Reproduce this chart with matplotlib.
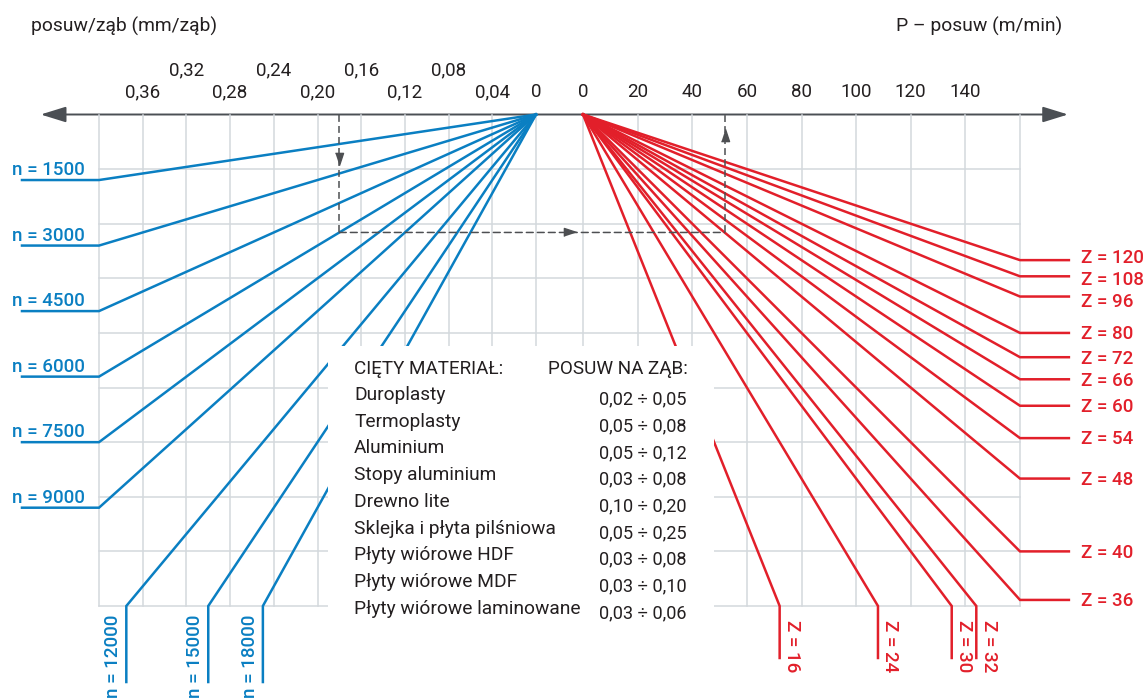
import numpy as np
import matplotlib
matplotlib.use('Agg')
from matplotlib import pyplot as plt
from matplotlib.patches import Rectangle, FancyArrowPatch, ConnectionPatch

plt.rcParams['font.family'] = ['Roboto', 'DejaVu Sans']

# ---- values ----
fzLabels = [0.36, 0.32, 0.28, 0.24, 0.20, 0.16, 0.12, 0.08, 0.04, 0]
pLabels = [0, 20, 40, 60, 80, 100, 120, 140]
nVals = [1500, 3000, 4500, 6000, 7500, 9000, 12000, 15000, 18000]
zVals = [120, 108, 96, 80, 72, 66, 60, 54, 48, 40, 36, 32, 30, 24, 16]
fzMax = 0.40   # mm/tooth at left edge of grid
pMax = 160     # m/min at right edge of grid
vMax = 4500    # fz*n (mm/min) at bottom of grid
vStep = 500

materials = ['Duroplasty', 'Termoplasty', 'Aluminium', 'Stopy aluminium',
             'Drewno lite', 'Sklejka i płyta pilśniowa', 'Płyty wiórowe HDF',
             'Płyty wiórowe MDF', 'Płyty wiórowe laminowane']
feedRanges = ['0,02 ÷ 0,05', '0,05 ÷ 0,08', '0,05 ÷ 0,12', '0,03 ÷ 0,08',
              '0,10 ÷ 0,20', '0,05 ÷ 0,25', '0,03 ÷ 0,08', '0,03 ÷ 0,10',
              '0,03 ÷ 0,06']

# worked example (dashed path)
exFz = 0.18
exN = 6000
exZ = 48

# ---- style ----
W, H = 1148, 699
PT = 0.72  # points per pixel at dpi 100
BLUE = '#0a7fc2'
RED = '#e21f2a'
INK = '#231f20'
GRID = '#d3d8dd'
AXC = '#4b4f54'
DASH = '#4d4f52'
LW = 1.8
FS = 13.5

GRID_TOP, GRID_BOT = 114.5, 606
L_X0, L_X1 = 99, 536
R_X0, R_X1 = 583, 1020

# small vertical nudges (px) so the crowded Z labels don't collide
zLabelNudge = {120: -3.5, 108: 2.5, 96: 4}


def axRect(x0, x1):
  return [x0 / W, 1 - GRID_BOT / H, (x1 - x0) / W, (GRID_BOT - GRID_TOP) / H]


def fx(px):
  return px / W


def fy(py):
  return 1 - py / H


def fmtFz(v):
  return '0' if v == 0 else ('%.2f' % v).replace('.', ',')


fig = plt.figure(figsize=(W / 100, H / 100), dpi=100)

axg = fig.add_axes(axRect(L_X0, R_X1))
axL = fig.add_axes(axRect(L_X0, L_X1))
axR = fig.add_axes(axRect(R_X0, R_X1))
for ax in (axg, axL, axR):
  ax.set_facecolor('none')
  for sp in ax.spines.values():
    sp.set_visible(False)
  ax.tick_params(length=0, labelbottom=False, labelleft=False)
  ax.set_ylim(vMax, 0)

axg.set_xlim(0, 1)
axg.set_xticks([])
axg.set_yticks(np.arange(vStep, vMax + 1, vStep))
axg.grid(axis='y', color=GRID, lw=1.1)
for gl in axg.get_ygridlines():
  gl.set_clip_on(False)

axL.set_xlim(fzMax, 0)
axL.set_xticks(np.arange(0, fzMax + 1e-9, 0.04))
axL.set_yticks([])
axR.set_xlim(0, pMax)
axR.set_xticks(np.arange(0, pMax + 1, 20))
axR.set_yticks([])
for ax in (axL, axR):
  ax.grid(axis='x', color=GRID, lw=1.1)
  for gl in ax.get_xgridlines():
    gl.set_clip_on(False)

# axis with arrows on both ends
arr = FancyArrowPatch(((40.7 - L_X0) / (R_X1 - L_X0), 0),
                      ((1068 - L_X0) / (R_X1 - L_X0), 0),
                      arrowstyle='<|-|>,head_length=15.5,head_width=4.8',
                      mutation_scale=1, shrinkA=0, shrinkB=0,
                      color=AXC, lw=1.4, transform=axg.transData,
                      clip_on=False, zorder=5)
axg.add_patch(arr)

# tick labels
for fz in fzLabels:
  upper = fz > 0 and round(fz / 0.04) % 2 == 0
  axL.annotate(fmtFz(fz), xy=(fz, 0), xytext=(0, (28.4 if upper else 12.6)),
               textcoords='offset points', ha='center', va='baseline',
               fontsize=FS, color=INK, annotation_clip=False)
for p in pLabels:
  axR.annotate(str(p), xy=(p, 0), xytext=(0, 12.6), textcoords='offset points',
               ha='center', va='baseline', fontsize=FS, color=INK,
               annotation_clip=False)

# n lines (left quadrant)
nStubFz = 0.0705
nStubV = 696
for n in nVals:
  fzEnd = min(fzMax, vMax / n)
  vEnd = fzEnd * n
  if vEnd < vMax:
    xs = [0, fzEnd, fzEnd + nStubFz]
    ys = [0, vEnd, vEnd]
    axL.plot(xs, ys, color=BLUE, lw=LW, clip_on=False, solid_joinstyle='miter')
    axL.annotate('n = %d' % n, xy=(xs[-1], vEnd), xytext=(-10 * PT, 5 * PT),
                 textcoords='offset points', ha='left', va='baseline',
                 fontsize=FS, color=BLUE, fontweight='medium',
                 annotation_clip=False)
  else:
    xs = [0, fzEnd, fzEnd]
    ys = [0, vEnd, vEnd + nStubV]
    axL.plot(xs, ys, color=BLUE, lw=LW, clip_on=False, solid_joinstyle='miter')
    axL.annotate('n = %d' % n, xy=(fzEnd, vMax), xytext=(-13 * PT, -9 * PT),
                 textcoords='offset points', ha='center', va='top',
                 rotation=90, fontsize=FS, color=BLUE, fontweight='medium',
                 annotation_clip=False)

# Z lines (right quadrant)
zStubP = 17.9
zStubV = 476
for z in zVals:
  vEnd = min(vMax, pMax * 1000.0 / z)
  pEnd = vEnd * z / 1000.0
  if vEnd < vMax:
    xs = [0, pEnd, pEnd + zStubP]
    ys = [0, vEnd, vEnd]
    axR.plot(xs, ys, color=RED, lw=LW, clip_on=False, solid_joinstyle='miter')
    dy = zLabelNudge.get(z, 0)
    axR.annotate('Z = %d' % z, xy=(xs[-1], vEnd),
                 xytext=(12 * PT, (-6.3 - dy) * PT),
                 textcoords='offset points', ha='left', va='baseline',
                 fontsize=FS, color=RED, fontweight='medium',
                 annotation_clip=False)
  else:
    xs = [0, pEnd, pEnd]
    ys = [0, vEnd, vEnd + zStubV]
    axR.plot(xs, ys, color=RED, lw=LW, clip_on=False, solid_joinstyle='miter')
    axR.annotate('Z = %d' % z, xy=(pEnd, vMax), xytext=(12.5 * PT, -14 * PT),
                 textcoords='offset points', ha='center', va='top',
                 rotation=270, fontsize=FS, color=RED, fontweight='medium',
                 annotation_clip=False)

# worked example: fz -> n -> Z -> P
exV = exFz * exN
exP = exV * exZ / 1000.0
dashKw = dict(color=DASH, lw=1.1, dashes=(4.5, 2.7), clip_on=False, zorder=4)
axL.plot([exFz, exFz], [0, exV], **dashKw)
axR.plot([exP, exP], [exV, 0], **dashKw)
con = ConnectionPatch((exFz, exV), (exP, exV), coordsA=axL.transData,
                      coordsB=axR.transData, color=DASH, lw=1.1,
                      linestyle=(0, (4.5, 2.7)), zorder=2)
fig.add_artist(con)

triDown = [(-0.33, 0.5), (0.33, 0.5), (0, -0.5)]
triUp = [(-0.33, -0.5), (0.33, -0.5), (0, 0.5)]
triRight = [(-0.5, -0.33), (-0.5, 0.33), (0.5, 0)]
mk = dict(color=DASH, markersize=8.8, clip_on=False, zorder=5, lw=0)
axL.plot([exFz], [exV * 0.377], marker=triDown, **mk)
axR.plot([exP], [exV * 0.178], marker=triUp, **mk)
p0 = axL.transData.transform((exFz, exV))
p1 = axR.transData.transform((exP, exV))
pm = axR.transData.inverted().transform(p0 + 0.6 * (p1 - p0))
axR.plot([pm[0]], [exV], marker=triRight, **mk)

# axis titles
fig.text(fx(31), fy(32), 'posuw/ząb (mm/ząb)', fontsize=13.9, color=INK,
         ha='left', va='baseline')
fig.text(fx(1062), fy(32), 'P – posuw (m/min)', fontsize=13.9, color=INK,
         ha='right', va='baseline')

# materials table on a white panel
fig.add_artist(Rectangle((fx(328), 0), fx(714) - fx(328), fy(345.7),
                         transform=fig.transFigure, facecolor='white',
                         edgecolor='none', zorder=1))
fig.text(fx(354), fy(374), 'CIĘTY MATERIAŁ:', fontsize=13.6, color=INK,
         ha='left', va='baseline', zorder=3)
fig.text(fx(548), fy(374), 'POSUW NA ZĄB:', fontsize=13.6, color=INK,
         ha='left', va='baseline', zorder=3)
rowH = 26.7
for i, (mat, rng) in enumerate(zip(materials, feedRanges)):
  fig.text(fx(354), fy(400 + i * rowH), mat, fontsize=13.8, color=INK,
           ha='left', va='baseline', zorder=3)
  fig.text(fx(599), fy(404.5 + i * rowH), rng, fontsize=13.1, color=INK,
           ha='left', va='baseline', zorder=3)

fig.savefig('out.png', dpi=100)
